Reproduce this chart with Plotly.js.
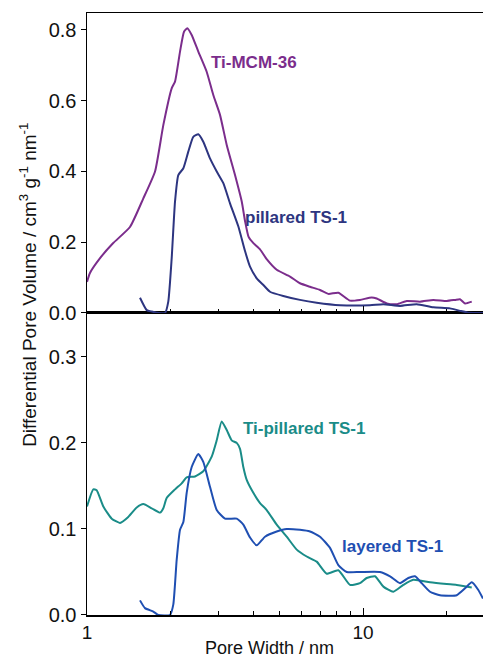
<!DOCTYPE html>
<html>
<head>
<meta charset="utf-8">
<script src="https://cdn.plot.ly/plotly-3.0.1.min.js"></script>
<style>
html, body { margin: 0; padding: 0; overflow: hidden; background: #fff; }
#chart { width: 490px; height: 658px; }
</style>
</head>
<body>
<div id="chart"></div>
<script>
// ---- Data (pore width in nm, differential pore volume in cm3 g-1 nm-1) ----
const mcmX = [1.0, 1.025, 1.115, 1.242, 1.431, 1.600, 1.764, 1.890, 2.027, 2.084, 2.173, 2.246, 2.309, 2.395, 2.531, 2.714, 2.868, 3.033, 3.208, 3.438, 3.636, 3.737, 3.85, 4.0, 4.235, 4.478, 4.868, 5.44, 5.911, 6.427, 6.987, 7.487, 8.139, 8.97, 9.752, 10.75, 11.21, 12.19, 13.25, 14.40, 16.09, 17.98, 20.11, 21.54, 22.46, 23.42, 24.77];
const mcmY = [0.088, 0.113, 0.155, 0.197, 0.243, 0.324, 0.400, 0.531, 0.635, 0.654, 0.739, 0.795, 0.805, 0.786, 0.739, 0.682, 0.616, 0.560, 0.475, 0.390, 0.315, 0.260, 0.215, 0.198, 0.180, 0.152, 0.122, 0.103, 0.084, 0.074, 0.065, 0.054, 0.057, 0.035, 0.037, 0.044, 0.041, 0.027, 0.025, 0.034, 0.032, 0.037, 0.034, 0.037, 0.039, 0.027, 0.032];

const pillX = [1.556, 1.646, 1.716, 1.789, 1.917, 1.970, 2.027, 2.084, 2.142, 2.234, 2.328, 2.427, 2.531, 2.638, 2.790, 2.951, 3.118, 3.297, 3.533, 3.737, 3.896, 4.12, 4.354, 4.603, 5.143, 5.911, 6.795, 8.254, 10.6, 11.85, 13.62, 15.65, 17.98, 20.66, 22.46, 24.07, 27.2];
const pillY = [0.043, 0.008, 0.004, 0.001, 0.0, 0.032, 0.155, 0.315, 0.390, 0.409, 0.456, 0.498, 0.505, 0.484, 0.437, 0.400, 0.367, 0.310, 0.245, 0.175, 0.131, 0.098, 0.079, 0.060, 0.048, 0.037, 0.029, 0.022, 0.022, 0.025, 0.020, 0.025, 0.016, 0.013, 0.006, 0.001, 0.0];

const tiPillX = [1.0, 1.054, 1.084, 1.146, 1.229, 1.317, 1.411, 1.514, 1.600, 1.716, 1.839, 1.890, 1.944, 2.084, 2.203, 2.297, 2.462, 2.638, 2.830, 2.951, 3.076, 3.208, 3.344, 3.487, 3.584, 3.684, 3.79, 4.005, 4.235, 4.478, 4.868, 5.291, 5.752, 6.252, 6.795, 7.388, 8.139, 8.97, 9.752, 10.31, 11.05, 11.85, 12.88, 14.00, 15.21, 17.49, 20.11, 21.85, 24.77];
const tiPillY = [0.126, 0.146, 0.145, 0.126, 0.112, 0.107, 0.114, 0.125, 0.129, 0.124, 0.119, 0.124, 0.136, 0.146, 0.153, 0.160, 0.161, 0.167, 0.184, 0.203, 0.225, 0.215, 0.203, 0.200, 0.193, 0.172, 0.157, 0.142, 0.130, 0.122, 0.105, 0.091, 0.076, 0.068, 0.062, 0.048, 0.052, 0.035, 0.037, 0.043, 0.045, 0.033, 0.027, 0.035, 0.041, 0.038, 0.036, 0.035, 0.032];

const layX = [1.556, 1.622, 1.739, 1.813, 1.998, 2.054, 2.113, 2.173, 2.234, 2.297, 2.395, 2.531, 2.638, 2.790, 2.951, 3.162, 3.487, 3.684, 3.896, 4.12, 4.415, 4.868, 5.291, 5.911, 6.427, 6.987, 7.594, 8.139, 8.729, 9.752, 11.52, 12.53, 13.62, 14.59, 15.43, 16.32, 17.49, 19.01, 21.85, 23.42, 24.77, 26.17, 27.2];
const layY = [0.017, 0.008, 0.004, 0.0, 0.0, 0.012, 0.064, 0.099, 0.108, 0.142, 0.172, 0.187, 0.178, 0.149, 0.122, 0.112, 0.112, 0.105, 0.090, 0.081, 0.091, 0.097, 0.100, 0.099, 0.097, 0.091, 0.078, 0.058, 0.050, 0.050, 0.050, 0.045, 0.037, 0.043, 0.045, 0.037, 0.027, 0.023, 0.023, 0.031, 0.038, 0.029, 0.019];

const seriesNames = ["Ti-MCM-36", "pillared TS-1", "Ti-pillared TS-1", "layered TS-1"];
const topTicks = [0, 0.2, 0.4, 0.6, 0.8];
const topTickText = ["0.0", "0.2", "0.4", "0.6", "0.8"];
const botTicks = [0, 0.1, 0.2, 0.3];
const botTickText = ["0.0", "0.1", "0.2", "0.3"];
const xMajor = [1, 10];
const xMajorText = ["1", "10"];
const xMinor = [2, 3, 4, 5, 6, 7, 8, 9, 20];

// ---- Styles ----
const cPurple = "#7b2d8c";
const cNavy = "#2d3580";
const cTeal = "#1a8c88";
const cBlue = "#1f4fb2";
const FONT = "Liberation Sans, Arial, Helvetica, sans-serif";

function line(x, y, color, xa, ya, name) {
  return { x: x, y: y, type: "scatter", mode: "lines", name: name,
    xaxis: xa, yaxis: ya,
    line: { color: color, width: 2, shape: "spline", smoothing: 0.5 },
    hoverinfo: "skip" };
}

const data = [
  line(mcmX, mcmY, cPurple, "x2", "y2", seriesNames[0]),
  line(pillX, pillY, cNavy, "x2", "y2", seriesNames[1]),
  line(tiPillX, tiPillY, cTeal, "x", "y", seriesNames[2]),
  line(layX, layY, cBlue, "x", "y", seriesNames[3])
];

const split = 0.5017;
const xCommon = {
  type: "log", range: [0, 1.4601], showline: true, linecolor: "#000", linewidth: 1.5,
  mirror: true, ticks: "inside", ticklen: 7, tickwidth: 1, tickcolor: "#000",
  tickmode: "array", tickvals: xMajor, ticktext: xMajorText,
  minor: { tickmode: "array", tickvals: xMinor, ticks: "inside", ticklen: 4, tickwidth: 1, tickcolor: "#000", showgrid: false },
  showgrid: false, zeroline: false,
  tickfont: { family: FONT, size: 19, color: "#111" }
};

const layout = {
  width: 490, height: 658,
  margin: { l: 87, r: 0, t: 13, b: 43 },
  paper_bgcolor: "#fff", plot_bgcolor: "#fff",
  showlegend: false,
  font: { family: FONT, color: "#111" },
  xaxis: Object.assign({}, xCommon, { anchor: "y" }),
  xaxis2: Object.assign({}, xCommon, { anchor: "y2", matches: "x", showticklabels: false }),
  yaxis: {
    domain: [0, split], range: [0, 0.351], showline: true, linecolor: "#000", linewidth: 1.5,
    mirror: true, ticks: "outside", ticklen: 5, tickcolor: "#000",
    tickmode: "array", tickvals: botTicks, ticktext: botTickText,
    showgrid: false, zeroline: false, tickfont: { family: FONT, size: 20, color: "#111" }
  },
  yaxis2: {
    domain: [split, 1], range: [0, 0.848], showline: true, linecolor: "#000", linewidth: 1.5,
    mirror: true, ticks: "outside", ticklen: 5, tickcolor: "#000",
    tickmode: "array", tickvals: topTicks, ticktext: topTickText,
    showgrid: false, zeroline: false, tickfont: { family: FONT, size: 20, color: "#111" }
  },
  annotations: [
    { text: "Differential Pore Volume / cm<sup>3</sup> g<sup>-1</sup> nm<sup>-1</sup>", xref: "paper", yref: "paper",
      x: -0.147, y: 0.548, xanchor: "center", yanchor: "middle", textangle: -90, showarrow: false,
      font: { family: FONT, size: 19, color: "#111" } },
    { text: "Pore Width / nm", xref: "paper", yref: "paper", x: 0.454, y: -0.055,
      xanchor: "center", yanchor: "middle", showarrow: false,
      font: { family: FONT, size: 18, color: "#111" } },
    { text: "<b>" + seriesNames[0] + "</b>", xref: "paper", yref: "paper", x: 0.302, y: 0.9186,
      xanchor: "left", yanchor: "middle", showarrow: false, font: { family: FONT, size: 17, color: cPurple } },
    { text: "<b>" + seriesNames[1] + "</b>", xref: "paper", yref: "paper", x: 0.387, y: 0.6595,
      xanchor: "left", yanchor: "middle", showarrow: false, font: { family: FONT, size: 17, color: cNavy } },
    { text: "<b>" + seriesNames[2] + "</b>", xref: "paper", yref: "paper", x: 0.382, y: 0.3106,
      xanchor: "left", yanchor: "middle", showarrow: false, font: { family: FONT, size: 17, color: cTeal } },
    { text: "<b>" + seriesNames[3] + "</b>", xref: "paper", yref: "paper", x: 0.628, y: 0.113,
      xanchor: "left", yanchor: "middle", showarrow: false, font: { family: FONT, size: 17, color: cBlue } }
  ]
};

Plotly.newPlot("chart", data, layout, { staticPlot: true, displayModeBar: false });
</script>
</body>
</html>
